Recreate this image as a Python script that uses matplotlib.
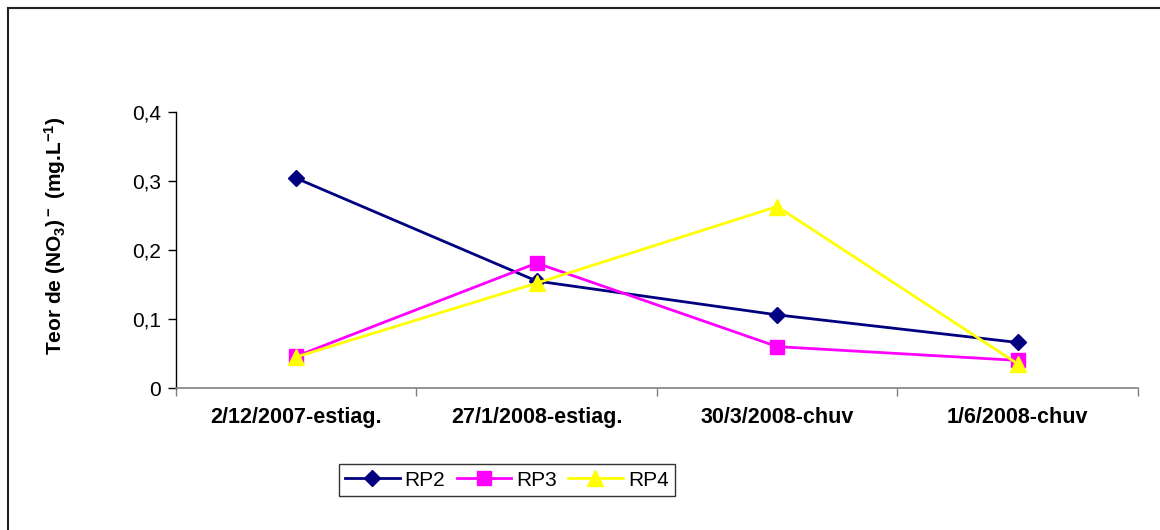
import numpy as np
import matplotlib.pyplot as plt
from matplotlib.lines import Line2D
from matplotlib.ticker import FixedLocator, FuncFormatter

plt.rcParams['font.family'] = ['Liberation Sans', 'DejaVu Sans']
plt.rcParams['mathtext.fontset'] = 'custom'
plt.rcParams['mathtext.rm'] = 'Liberation Sans:bold'
plt.rcParams['mathtext.bf'] = 'Liberation Sans:bold'
plt.rcParams['mathtext.default'] = 'bf'

# data
categories = ['2/12/2007-estiag.', '27/1/2008-estiag.', '30/3/2008-chuv', '1/6/2008-chuv']
rp2 = [0.304, 0.155, 0.106, 0.066]
rp3 = [0.046, 0.181, 0.060, 0.040]
rp4 = [0.045, 0.152, 0.263, 0.035]

fig = plt.figure(figsize=(11.6, 5.3), dpi=100)
# chart border: only top and left edges are inside the image
bx, by = 7.5 / 1160, 1 - 7.5 / 530
fig.add_artist(Line2D([bx, 1.0], [by, by], transform=fig.transFigure, color='#222222', linewidth=1.5))
fig.add_artist(Line2D([bx, bx], [0.0, by], transform=fig.transFigure, color='#222222', linewidth=1.5))

ax = fig.add_axes([0.1517, 0.2679, 0.8293, 0.5208])
x = np.arange(len(categories))

ax.plot(x, rp2, color='#000080', marker='D', markersize=8, linewidth=2, label='RP2')
ax.plot(x, rp3, color='#FF00FF', marker='s', markersize=10, linewidth=2, label='RP3')
ax.plot(x, rp4, color='#FFFF00', marker='^', markersize=11, linewidth=2, label='RP4')

ax.set_xlim(-0.5, len(categories) - 0.5)
ax.set_ylim(0, 0.4)
ax.set_yticks([0, 0.1, 0.2, 0.3, 0.4])
ax.yaxis.set_major_formatter(FuncFormatter(lambda v, p: '0' if v == 0 else f'{v:.1f}'.replace('.', ',')))

ax.set_xticks(x)
ax.set_xticklabels(categories, fontweight='bold', fontsize=15.5)
ax.xaxis.set_minor_locator(FixedLocator(np.arange(-0.5, len(categories), 1.0)))
ax.tick_params(axis='x', which='major', length=0, pad=14)
ax.tick_params(axis='x', which='minor', length=6, width=1, color='#808080', direction='out')
ax.tick_params(axis='y', length=6, width=1, direction='out', labelsize=15, pad=5)

for s in ['top', 'right']:
    ax.spines[s].set_visible(False)
ax.spines['bottom'].set_color('#808080')
ax.spines['bottom'].set_linewidth(1.2)
ax.spines['left'].set_linewidth(1.0)

ax.set_ylabel(r'Teor de (NO$_3$)$^-$ (mg.L$^{-1}$)', fontsize=15, fontweight='bold')
ax.yaxis.set_label_coords(-0.112, 0.553)

fig.legend(loc='center', bbox_to_anchor=(0.437, 0.094), ncol=3, frameon=True, fancybox=False,
           edgecolor='black', fontsize=15, handlelength=2.6, columnspacing=0.55,
           handletextpad=0.25, borderpad=0.3)

fig.savefig('out.png', dpi=100)
